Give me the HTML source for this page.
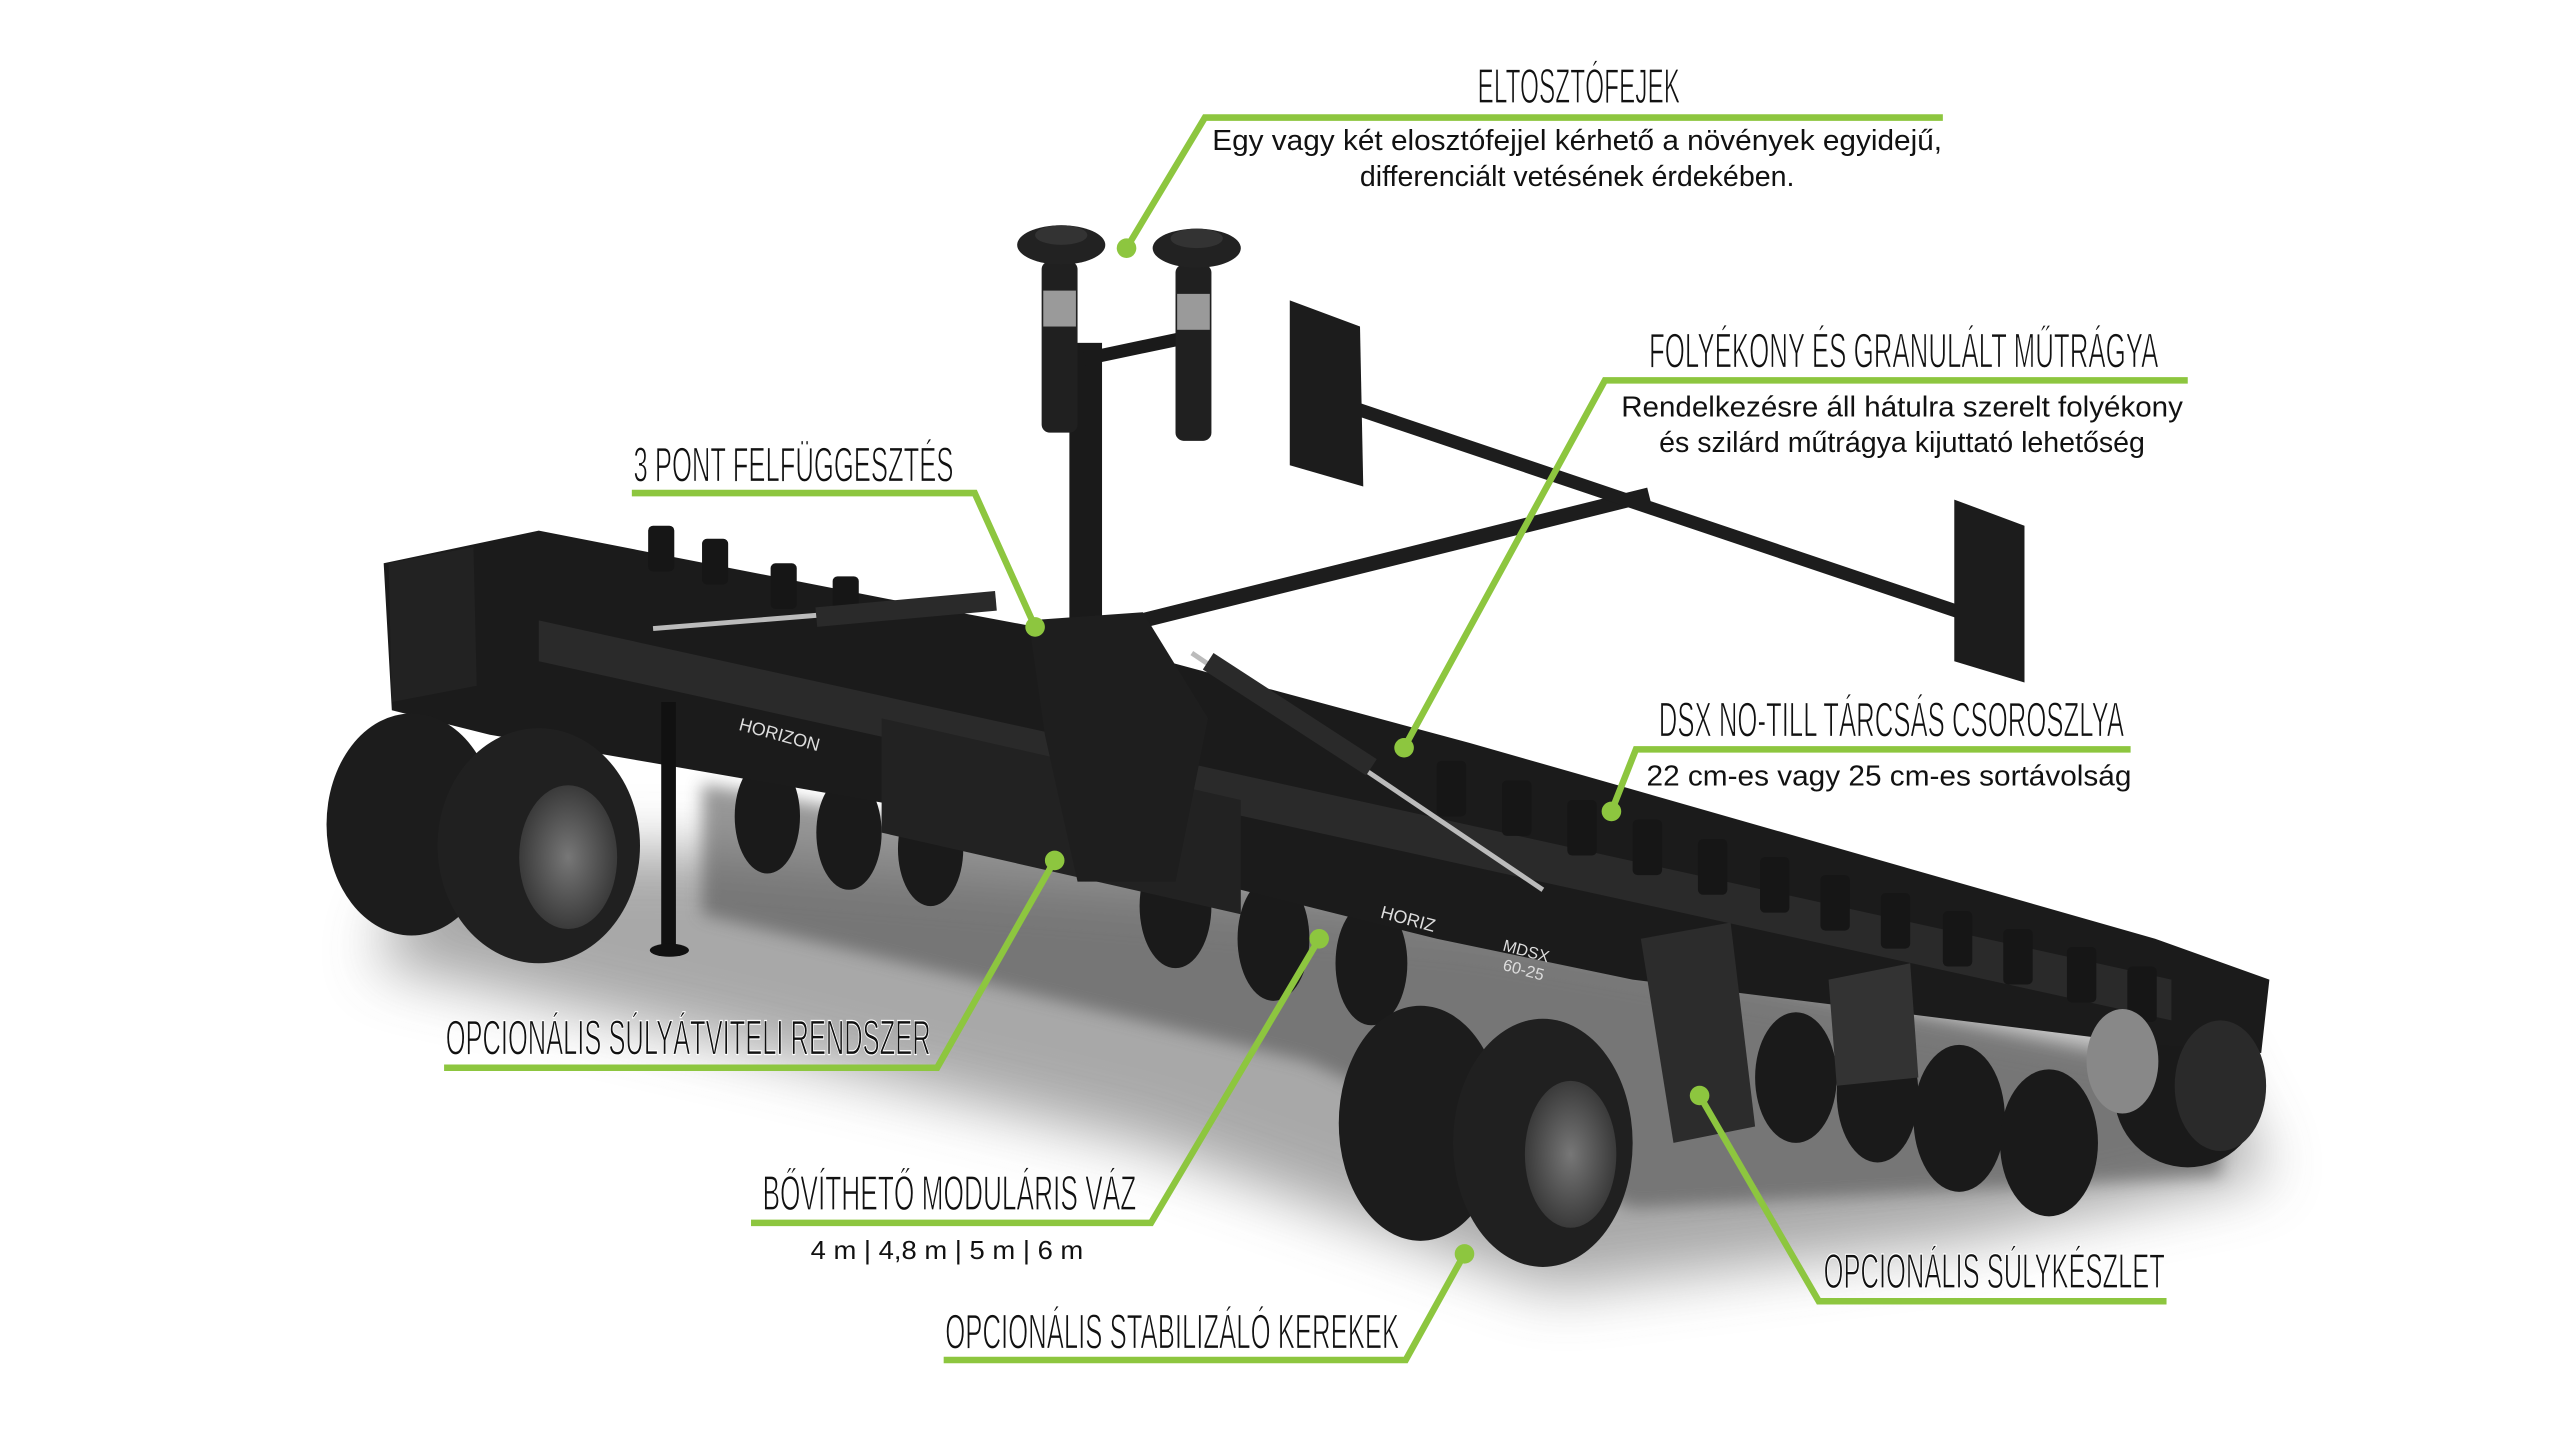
<!DOCTYPE html>
<html><head><meta charset="utf-8"><style>
html,body{margin:0;padding:0;background:#fff;}
svg{display:block;}
.t{font-family:"Liberation Sans","DejaVu Sans",sans-serif;font-size:30px;fill:#111;stroke:#fff;stroke-width:0.7px;}
.b{font-family:"Liberation Sans","DejaVu Sans",sans-serif;font-size:17.5px;fill:#111;}
</style></head><body>
<svg width="2560" height="1440" viewBox="0 0 1568 882" preserveAspectRatio="none" xmlns="http://www.w3.org/2000/svg">
<defs>
<filter id="bl" x="-20%" y="-50%" width="140%" height="200%"><feGaussianBlur stdDeviation="18"/></filter>
<filter id="bl2"><feGaussianBlur stdDeviation="5"/></filter>
<radialGradient id="hub" cx="50%" cy="50%" r="50%"><stop offset="0" stop-color="#777"/><stop offset="1" stop-color="#3a3a3a"/></radialGradient>
</defs>
<rect width="1568" height="882" fill="#fff"/>
<polygon points="260,520 420,520 900,560 1350,640 1390,720 1200,760 950,790 700,700 450,640 230,590" fill="#9a9a9a" filter="url(#bl)" opacity="0.85"/>
<polygon points="430,480 880,560 1360,660 1360,720 1000,740 800,650 430,560" fill="#555" filter="url(#bl2)" opacity="0.6"/>

<line x1="680" y1="385" x2="1010" y2="303" stroke="#1d1d1d" stroke-width="9"/>
<line x1="800" y1="240" x2="1230" y2="385" stroke="#1d1d1d" stroke-width="8"/>
<polygon points="790,184 833,200 835,298 790,285" fill="#1c1c1c"/>
<polygon points="1197,306 1240,322 1240,418 1197,405" fill="#1c1c1c"/>
<rect x="655" y="210" width="20" height="180" fill="#1a1a1a"/>
<line x1="640" y1="225" x2="735" y2="205" stroke="#1a1a1a" stroke-width="8"/>
<rect x="638" y="160" width="22" height="105" rx="5" fill="#202020"/>
<rect x="720" y="162" width="22" height="108" rx="5" fill="#202020"/>
<rect x="639" y="178" width="20" height="22" fill="#9a9a9a"/>
<rect x="721" y="180" width="20" height="22" fill="#9a9a9a"/>
<ellipse cx="650" cy="150" rx="27" ry="12" fill="#222"/>
<ellipse cx="733" cy="152" rx="27" ry="12" fill="#222"/>
<ellipse cx="650" cy="144" rx="16" ry="6" fill="#333"/>
<ellipse cx="733" cy="146" rx="16" ry="6" fill="#333"/>

<g fill="#1a1a1a">
<ellipse cx="470" cy="500" rx="20" ry="35"/><ellipse cx="520" cy="510" rx="20" ry="35"/><ellipse cx="570" cy="520" rx="20" ry="35"/>
<ellipse cx="720" cy="555" rx="22" ry="38"/><ellipse cx="780" cy="575" rx="22" ry="38"/><ellipse cx="840" cy="590" rx="22" ry="38"/>
<ellipse cx="1100" cy="660" rx="25" ry="40"/><ellipse cx="1150" cy="670" rx="25" ry="42"/><ellipse cx="1200" cy="685" rx="28" ry="45"/><ellipse cx="1255" cy="700" rx="30" ry="45"/><ellipse cx="1340" cy="670" rx="45" ry="45"/>
</g>
<polygon points="235,345 330,325 560,370 640,385 900,455 1320,575 1390,600 1385,645 1320,640 1000,600 880,575 560,495 300,450 240,435" fill="#1b1b1b"/>
<polygon points="330,380 1330,600 1330,625 330,405" fill="#2a2a2a"/>
<polygon points="540,440 760,490 760,560 540,510" fill="#222"/>
<g fill="#161616">
<rect x="397" y="322" width="16" height="28" rx="3"/><rect x="430" y="330" width="16" height="28" rx="3"/><rect x="472" y="345" width="16" height="28" rx="3"/><rect x="510" y="353" width="16" height="28" rx="3"/>
<rect x="880" y="466" width="18" height="34" rx="3"/><rect x="920" y="478" width="18" height="34" rx="3"/><rect x="960" y="490" width="18" height="34" rx="3"/><rect x="1000" y="502" width="18" height="34" rx="3"/><rect x="1040" y="514" width="18" height="34" rx="3"/><rect x="1078" y="525" width="18" height="34" rx="3"/><rect x="1115" y="536" width="18" height="34" rx="3"/><rect x="1152" y="547" width="18" height="34" rx="3"/><rect x="1190" y="558" width="18" height="34" rx="3"/><rect x="1227" y="569" width="18" height="34" rx="3"/><rect x="1266" y="580" width="18" height="34" rx="3"/><rect x="1303" y="592" width="18" height="34" rx="3"/>
</g>
<line x1="400" y1="385" x2="610" y2="368" stroke="#bbb" stroke-width="3"/>
<line x1="500" y1="378" x2="610" y2="368" stroke="#2a2a2a" stroke-width="12"/>
<line x1="730" y1="400" x2="945" y2="545" stroke="#bbb" stroke-width="3"/>
<line x1="740" y1="405" x2="840" y2="470" stroke="#2a2a2a" stroke-width="12"/>
<polygon points="630,380 700,375 740,440 720,540 660,540 640,450" fill="#1e1e1e"/>
<polygon points="238,345 290,335 292,420 240,430" fill="#222"/>
<rect x="405" y="430" width="9" height="150" fill="#111"/>
<ellipse cx="410" cy="582" rx="12" ry="4" fill="#111"/>
<ellipse cx="252" cy="505" rx="52" ry="68" fill="#1c1c1c"/>
<ellipse cx="330" cy="518" rx="62" ry="72" fill="#202020"/>
<ellipse cx="348" cy="525" rx="30" ry="44" fill="url(#hub)"/>
<polygon points="1005,575 1060,565 1075,690 1025,700" fill="#2c2c2c"/>
<polygon points="1120,600 1170,590 1175,660 1125,665" fill="#333"/>
<ellipse cx="870" cy="688" rx="50" ry="72" fill="#1c1c1c"/>
<ellipse cx="945" cy="700" rx="55" ry="76" fill="#202020"/>
<ellipse cx="962" cy="707" rx="28" ry="45" fill="url(#hub)"/>
<ellipse cx="1360" cy="665" rx="28" ry="40" fill="#2a2a2a"/>
<ellipse cx="1300" cy="650" rx="22" ry="32" fill="#888"/>
<text x="452" y="447" font-family="Liberation Sans" font-size="11" fill="#ddd" transform="rotate(15 452 447)">HORIZON</text>
<text x="845" y="562" font-family="Liberation Sans" font-size="11" fill="#ddd" transform="rotate(15 845 562)">HORIZ</text>
<text x="920" y="582" font-family="Liberation Sans" font-size="10" fill="#ddd" transform="rotate(15 920 582)">MDSX</text>
<text x="920" y="594" font-family="Liberation Sans" font-size="10" fill="#ddd" transform="rotate(15 920 594)">60-25</text>

<g stroke="#8dc63f" stroke-width="4" fill="none">
<polyline points="1190,72 738,72 690,152"/>
<polyline points="1340,233 983,233 860,458"/>
<polyline points="387,302 597,302 634,384"/>
<polyline points="1305,459 1002,459 987,497"/>
<polyline points="272,654 574,654 646,527"/>
<polyline points="460,749 705,749 808,575"/>
<polyline points="578,833 861,833 897,768"/>
<polyline points="1327,797 1114,797 1041,671"/>
</g>
<g fill="#8dc63f">
<circle cx="690" cy="152" r="6"/><circle cx="860" cy="458" r="6"/><circle cx="634" cy="384" r="6"/><circle cx="987" cy="497" r="6"/>
<circle cx="646" cy="527" r="6"/><circle cx="808" cy="575" r="6"/><circle cx="897" cy="768" r="6"/><circle cx="1041" cy="671" r="6"/>
</g>
<g class="t">
<text x="905" y="63" textLength="124" lengthAdjust="spacingAndGlyphs">ELTOSZTÓFEJEK</text>
<text x="1010" y="225" textLength="312" lengthAdjust="spacingAndGlyphs">FOLYÉKONY ÉS GRANULÁLT MŰTRÁGYA</text>
<text x="388" y="295" textLength="196" lengthAdjust="spacingAndGlyphs">3 PONT FELFÜGGESZTÉS</text>
<text x="1016" y="451" textLength="285" lengthAdjust="spacingAndGlyphs">DSX NO-TILL TÁRCSÁS CSOROSZLYA</text>
<text x="273" y="646" textLength="297" lengthAdjust="spacingAndGlyphs">OPCIONÁLIS SÚLYÁTVITELI RENDSZER</text>
<text x="467" y="741" textLength="229" lengthAdjust="spacingAndGlyphs">BŐVÍTHETŐ MODULÁRIS VÁZ</text>
<text x="579" y="826" textLength="278" lengthAdjust="spacingAndGlyphs">OPCIONÁLIS STABILIZÁLÓ KEREKEK</text>
<text x="1117" y="789" textLength="209" lengthAdjust="spacingAndGlyphs">OPCIONÁLIS SÚLYKÉSZLET</text>
</g>
<g class="b" text-anchor="middle">
<text x="966" y="92" textLength="447" lengthAdjust="spacingAndGlyphs">Egy vagy két elosztófejjel kérhető a növények egyidejű,</text>
<text x="966" y="114">differenciált vetésének érdekében.</text>
<text x="1165" y="255" textLength="344" lengthAdjust="spacingAndGlyphs">Rendelkezésre áll hátulra szerelt folyékony</text>
<text x="1165" y="277">és szilárd műtrágya kijuttató lehetőség</text>
<text x="1157" y="481" textLength="297" lengthAdjust="spacingAndGlyphs">22 cm-es vagy 25 cm-es sortávolság</text>
<text x="580" y="771" font-size="16" textLength="167" lengthAdjust="spacingAndGlyphs">4 m | 4,8 m | 5 m | 6 m</text>
</g>
</svg>
</body></html>
